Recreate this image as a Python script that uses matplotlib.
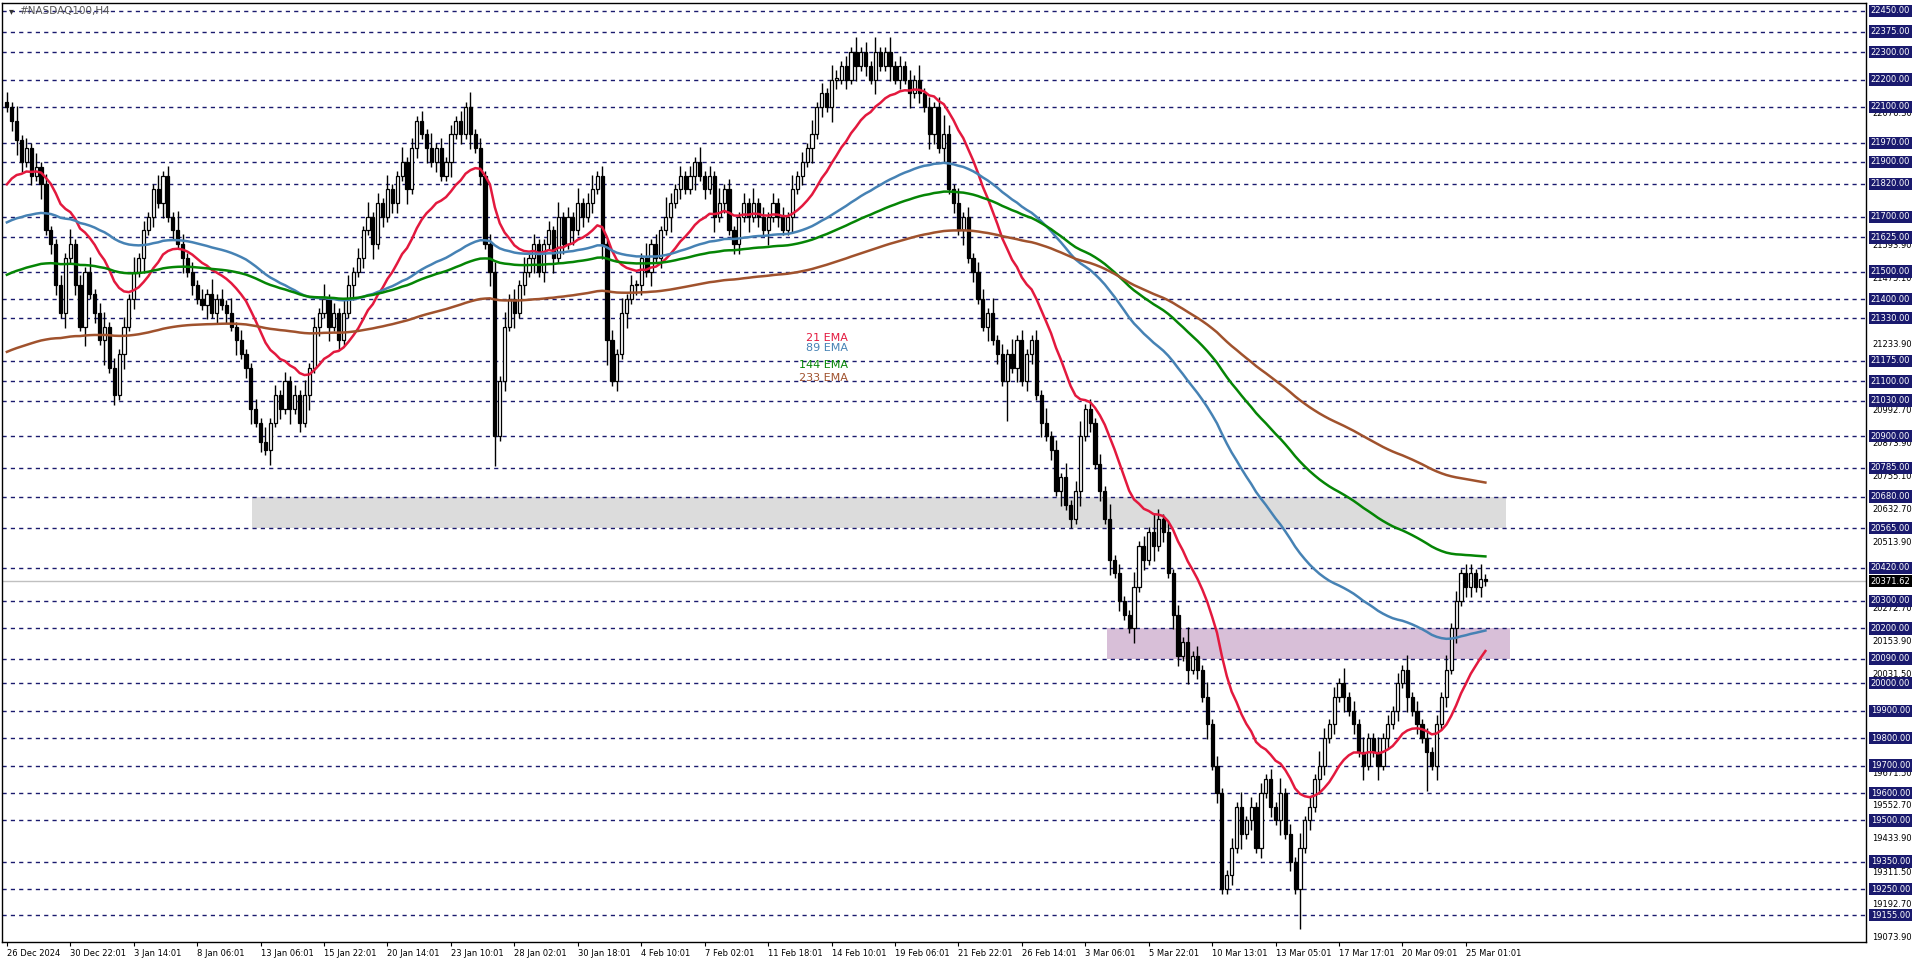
import numpy as np
import matplotlib
matplotlib.use("Agg")
import matplotlib.pyplot as plt

title = "#NASDAQ100,H4"
closes = [
22100,22050,21980,21900,21950,21850,21880,21820,21650,21600,
21450,21350,21550,21600,21450,21300,21500,21420,21350,21250,
21300,21150,21050,21200,21300,21400,21500,21550,21650,21700,
21800,21750,21850,21700,21650,21600,21550,21500,21450,21400,
21380,21420,21350,21400,21380,21350,21300,21250,21200,21150,
21000,20950,20880,20850,20950,21050,21000,21100,21000,21050,
20950,21050,21150,21300,21350,21400,21300,21350,21250,21350,
21450,21500,21550,21650,21700,21600,21750,21700,21800,21750,
21850,21900,21800,21950,22050,22000,21950,21900,21950,21850,
21900,22000,22050,22000,22100,22000,21950,21850,21600,21500,
20900,21100,21300,21400,21350,21450,21500,21550,21600,21500,
21600,21650,21550,21700,21600,21700,21650,21750,21700,21750,
21800,21850,21600,21250,21100,21200,21350,21400,21450,21450,
21550,21500,21600,21550,21650,21700,21750,21800,21850,21800,
21850,21900,21850,21800,21850,21700,21750,21800,21650,21600,
21700,21750,21700,21750,21700,21650,21700,21750,21700,21650,
21700,21800,21850,21900,21950,22000,22100,22150,22100,22200,
22200,22250,22200,22300,22250,22300,22250,22200,22300,22250,
22300,22250,22200,22250,22200,22150,22200,22150,22100,22000,
22100,21950,22000,21800,21750,21650,21700,21550,21500,21400,
21300,21350,21250,21200,21100,21200,21150,21250,21100,21200,
21250,21050,20950,20900,20850,20700,20750,20650,20600,20700,
20900,21000,20950,20800,20700,20600,20450,20400,20300,20250,
20200,20350,20500,20450,20550,20500,20600,20550,20400,20250,
20100,20150,20050,20100,20050,19950,19850,19700,19600,19250,
19300,19400,19550,19450,19500,19550,19400,19600,19650,19550,
19500,19600,19450,19350,19250,19400,19500,19550,19650,19700,
19800,19850,19950,20000,19950,19900,19850,19750,19700,19800,
19750,19700,19800,19850,19900,20000,20050,19950,19900,19850,
19800,19750,19700,19850,19950,20050,20200,20300,20400,20350,
20400,20350,20380,20371.62]
first_open = 22120
upper_wick = ("2131213121" "1213121312" "3121213121" "1312142121" "2131213121"
              "1213121212" "1312131213" "2121312131" "1312121312" "1212131212"
              "2131213121" "1213121312" "3121213121" "1312142121" "2131213121"
              "1213121212" "1312131213" "2121312131" "1312121312" "1242131212"
              "2131213121" "1213121312" "3121213121" "1312142121" "2131213121"
              "1213121212" "1312131213" "2121312131" "1312121312" "1212131212" "2131")
lower_wick = ("1232121312" "2131214121" "5121312131" "2131213121" "1312121312"
              "3121312131" "2131213121" "1312131212" "2131213121" "1312131213"
              "6121312131" "2131213121" "2135121312" "2131213121" "1312131212"
              "2131213121" "1312131213" "2121312131" "1312131213" "2131213121"
              "1312181312" "2131213121" "3121213121" "1312131213" "2131213121"
              "1213121212" "1312181213" "2121312131" "1312121312" "1813121312" "2121")
wick_unit = 18

ema_periods = [21, 89, 144, 233]
ema_seeds = [21790, 21670, 21480, 21200]
ema_colors = ["#e3193e", "#4682b4", "#058505", "#a0522d"]
ema_labels = ["21 EMA", "89 EMA", "144 EMA", "233 EMA"]

levels = [22450,22375,22300,22200,22100,21970,21900,21820,21700,21625,21500,21400,
          21330,21175,21100,21030,20900,20785,20680,20565,20420,20300,20200,20090,
          20000,19900,19800,19700,19600,19500,19350,19250,19155]
minor_ticks = [22076.30,21593.90,21475.10,21233.90,20992.70,20873.90,20755.10,
               20632.70,20513.90,20272.70,20153.90,20031.50,19671.50,19552.70,
               19433.90,19311.50,19192.70,19073.90]
current_price = 20371.62
gray_zone = (20565, 20680, 50.3, 307.3)
pink_zone = (20090, 20200, 225.5, 308)
xlabels = ["26 Dec 2024","30 Dec 22:01","3 Jan 14:01","8 Jan 06:01","13 Jan 06:01",
           "15 Jan 22:01","20 Jan 14:01","23 Jan 10:01","28 Jan 02:01","30 Jan 18:01",
           "4 Feb 10:01","7 Feb 02:01","11 Feb 18:01","14 Feb 10:01","19 Feb 06:01",
           "21 Feb 22:01","26 Feb 14:01","3 Mar 06:01","5 Mar 22:01","10 Mar 13:01",
           "13 Mar 05:01","17 Mar 17:01","20 Mar 09:01","25 Mar 01:01"]
xlabel_step = 13

W, H = 1916, 963
fig = plt.figure(figsize=(W/100, H/100), dpi=100)
ax = fig.add_axes([2/W, 1-942/H, (1866-2)/W, (942-3)/H])
ax.set_ylim(19057, 22479)
ax.set_xlim(-1, 381)

c = np.array(closes, dtype=float)
n = len(c)
o = np.concatenate([[first_open], c[:-1]])
uw = np.array([int(ch) for ch in upper_wick[:n]]) * wick_unit
lw = np.array([int(ch) for ch in lower_wick[:n]]) * wick_unit
hi = np.maximum(o, c) + uw
lo = np.minimum(o, c) - lw
x = np.arange(n)

for lv in levels:
    ax.axhline(lv, color="#1a1a6e", lw=1, ls=(0, (3, 3)), zorder=1)
ax.axhline(current_price, color="#c0c0c0", lw=1, zorder=1)

for (y0, y1, x0, x1), col in [(gray_zone, "#dcdcdc"), (pink_zone, "#d8bfd8")]:
    ax.add_patch(plt.Rectangle((x0, y0), x1-x0, y1-y0, color=col, zorder=0.5, lw=0))

ax.vlines(x, lo, hi, color="black", lw=1, zorder=3)
bull = c >= o
bh = np.maximum(np.abs(c-o), 4)
ax.bar(x[bull], bh[bull], bottom=o[bull], width=0.65, color="white", edgecolor="black", lw=0.9, zorder=4)
ax.bar(x[~bull], bh[~bull], bottom=c[~bull], width=0.65, color="black", edgecolor="black", lw=0.9, zorder=4)

for p, s, col in zip(ema_periods, ema_seeds, ema_colors):
    a = 2/(p+1)
    e = np.empty(n); prev = s
    for i in range(n):
        prev = prev + a*(c[i]-prev); e[i] = prev
    ax.plot(x, e, color=col, lw=1.8, zorder=5)

for lab, col, yy in zip(ema_labels, ema_colors, [338, 348, 365, 378]):
    fig.text(848/W, 1-yy/H, lab, color=col, fontsize=8, ha="right", va="center")

fig.text(9/W, 1-11/H, "\u25BE", fontsize=7, color="#333333", va="center")
fig.text(19/W, 1-11/H, title, fontsize=7.5, color="#555555", va="center")

ax.yaxis.tick_right()
ax.set_yticks([])
ax.set_xticks([k*xlabel_step for k in range(len(xlabels))])
ax.set_xticklabels(xlabels, fontsize=6, ha="left")
ax.tick_params(axis="x", length=3, pad=2)
for v in minor_ticks:
    ax.annotate(f"{v:.2f}", xy=(1.0, v), xycoords=("axes fraction", "data"),
                xytext=(4.5, 0), textcoords="offset points", fontsize=6, va="center", color="black")
for v in levels:
    ax.annotate(f"{v:.2f}", xy=(1.0, v), xycoords=("axes fraction", "data"),
                xytext=(3.5, 0), textcoords="offset points", fontsize=6, va="center", color="white",
                bbox=dict(boxstyle="square,pad=0.2", fc="#1a1a6e", ec="none"))
ax.annotate(f"{current_price:.2f}", xy=(1.0, current_price), xycoords=("axes fraction", "data"),
            xytext=(3.5, 0), textcoords="offset points", fontsize=6, va="center", color="white",
            bbox=dict(boxstyle="square,pad=0.2", fc="black", ec="none"))
for sp in ax.spines.values():
    sp.set_linewidth(1)
fig.savefig("out.png", dpi=100)
